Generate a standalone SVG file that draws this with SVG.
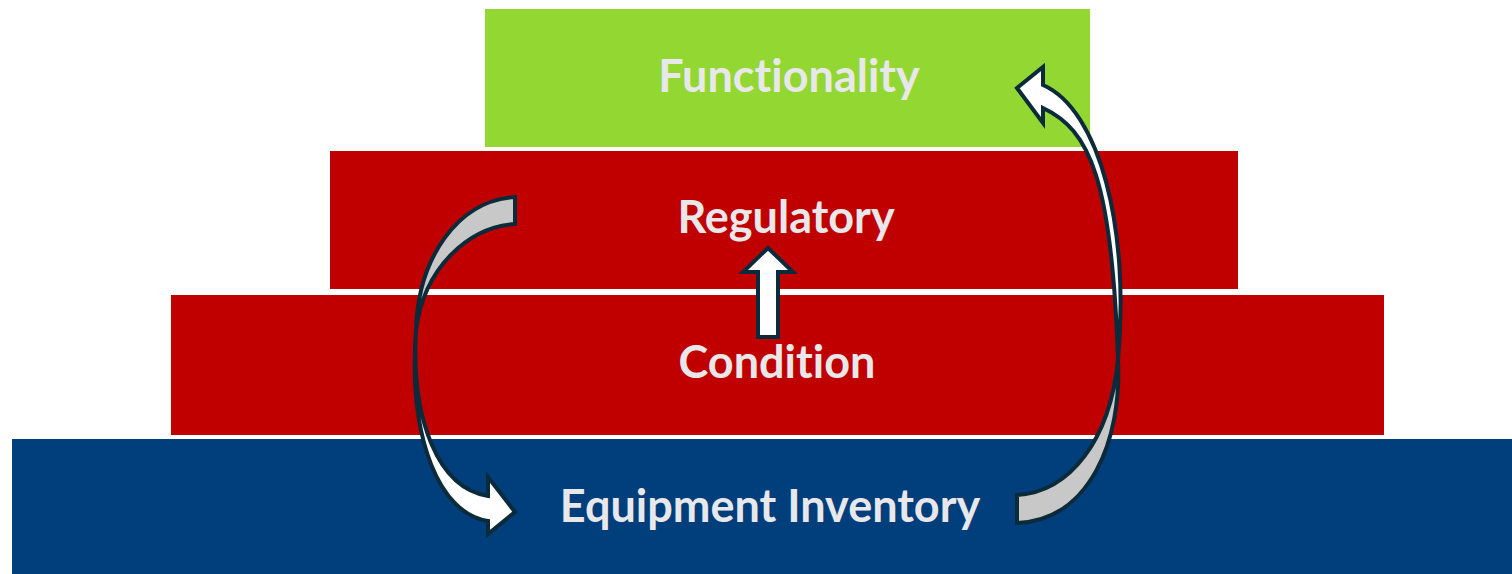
<svg xmlns="http://www.w3.org/2000/svg" width="1512" height="574" viewBox="0 0 1512 574">
<style>
.lbl{font-family:Lato,"Open Sans","Liberation Sans",sans-serif;font-weight:700;font-size:45px;fill:#E8E8EA;text-anchor:middle;font-variant-ligatures:none}
.ar{stroke:#0B2A3A;stroke-width:4;stroke-linejoin:miter}
.front{fill:#FFFFFF}
.back{fill:#C8C8C8}
</style>
<rect width="1512" height="574" fill="#FFFFFF"/>
<g id="functionality">
<rect x="485" y="9" width="605" height="138" fill="#92D732"/>
<text class="lbl" x="789" y="92">Functionality</text>
</g>
<g id="regulatory">
<rect x="330" y="151" width="908" height="138" fill="#C00000"/>
<text class="lbl" x="786" y="233">Regulatory</text>
</g>
<g id="condition">
<rect x="171" y="295" width="1213" height="140" fill="#C00000"/>
<text class="lbl" x="777" y="378">Condition</text>
</g>
<g id="equipment-inventory">
<rect x="12" y="439" width="1500" height="135" fill="#003E7C"/>
<text class="lbl" x="770" y="522">Equipment Inventory</text>
</g>
<g id="connectors">
<!-- left curved arrow: Regulatory to Equipment Inventory -->
<path class="ar back" d="M515,197 L515,224 C468,227 424,268 416,330 C418,258 458,200 515,197 Z"/>
<path class="ar front" d="M416,330 C411,420 438,488 488,496 L488,477 L515,512 L488,534 L488,521 C440,514 408,440 416,330 Z"/>
<!-- right curved arrow: Equipment Inventory to Functionality -->
<path class="ar back" d="M1017,523 L1017,495 C1070,492 1110,440 1118,360 C1122,440 1090,520 1017,523 Z"/>
<path class="ar front" d="M1118,360 C1130,230 1100,110 1043,85 L1043,67 L1017,88 L1043,123 L1043,108 C1090,130 1112,180 1118,360 Z"/>
<!-- small up arrow: Condition to Regulatory -->
<path class="ar front" stroke-width="3" d="M758,337 L758,272 L743,272 L768,248 L793,272 L778,272 L778,337 Z"/>
</g>
</svg>
